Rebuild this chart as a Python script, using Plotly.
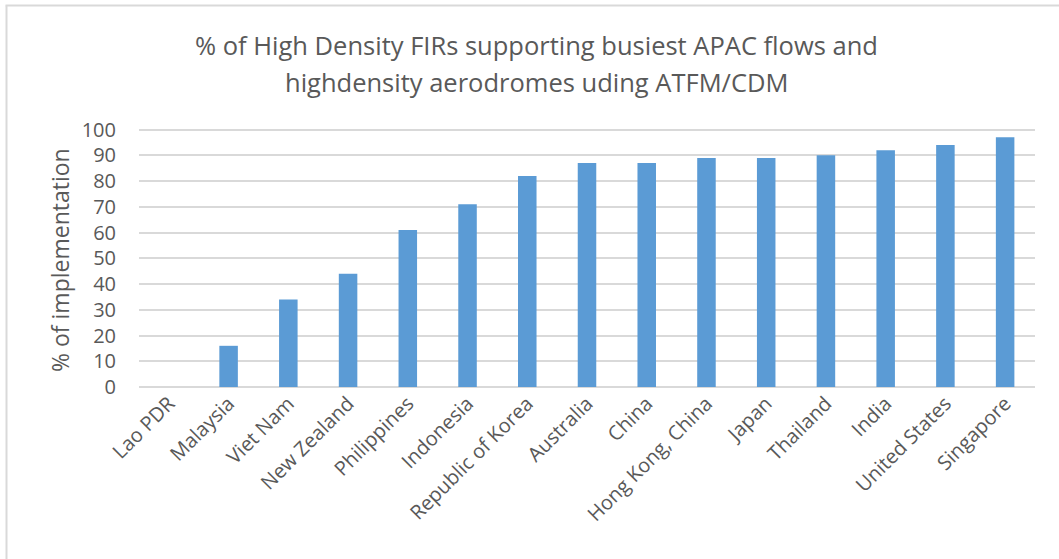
import plotly.graph_objects as go

# Implementation share per State/Administration (%)
countries = [
    "Lao PDR", "Malaysia", "Viet Nam", "New Zealand", "Philippines",
    "Indonesia", "Republic of Korea", "Australia", "China", "Hong Kong, China",
    "Japan", "Thailand", "India", "United States", "Singapore",
]
implementation_pct = [0, 16, 34, 44, 61, 71, 82, 87, 87, 89, 89, 90, 92, 94, 97]
y_ticks = [0, 10, 20, 30, 40, 50, 60, 70, 80, 90, 100]

title_lines = [
    "% of High Density FIRs supporting busiest APAC flows and",
    "highdensity aerodromes uding ATFM/CDM",
]

W, H = 1059, 559
ML, MR, MT, MB = 139, 24, 127, 172
plot_w = W - ML - MR
plot_h = H - MT - MB

TEXT = "#595959"
GRID = "#d9d9d9"
BAR = "#5b9bd5"
FONT = "Open Sans, DejaVu Sans, sans-serif"


def px_to_paper_x(px):
    return (px - ML) / plot_w


def px_to_paper_y(py):
    return (H - MB - py) / plot_h


fig = go.Figure(
    go.Bar(
        x=countries,
        y=implementation_pct,
        width=0.31,
        marker=dict(color=BAR, line=dict(width=0)),
        hoverinfo="x+y",
    )
)

annotations = [
    dict(
        text=title_lines[0], xref="paper", yref="paper",
        x=px_to_paper_x(536), y=px_to_paper_y(45),
        showarrow=False, xanchor="center", yanchor="middle",
        font=dict(family=FONT, size=25.5, color=TEXT),
    ),
    dict(
        text=title_lines[1], xref="paper", yref="paper",
        x=px_to_paper_x(536), y=px_to_paper_y(82),
        showarrow=False, xanchor="center", yanchor="middle",
        font=dict(family=FONT, size=25.5, color=TEXT),
    ),
    dict(
        text="% of implementation", xref="paper", yref="paper",
        x=px_to_paper_x(60), y=px_to_paper_y(260),
        showarrow=False, xanchor="center", yanchor="middle", textangle=-90,
        font=dict(family=FONT, size=23, color=TEXT),
    ),
]

# outer chart frame (left and top edges)
shapes = [
    dict(type="line", xref="paper", yref="paper",
         x0=px_to_paper_x(6.5), x1=px_to_paper_x(6.5),
         y0=px_to_paper_y(5.5), y1=px_to_paper_y(H + 5),
         line=dict(color=GRID, width=2)),
    dict(type="line", xref="paper", yref="paper",
         x0=px_to_paper_x(5.5), x1=px_to_paper_x(W + 5),
         y0=px_to_paper_y(5.5), y1=px_to_paper_y(5.5),
         line=dict(color=GRID, width=2)),
]

fig.update_layout(
    width=W, height=H,
    margin=dict(l=ML, r=MR, t=MT, b=MB, pad=0),
    paper_bgcolor="white", plot_bgcolor="white",
    showlegend=False,
    annotations=annotations,
    shapes=shapes,
    xaxis=dict(
        type="category",
        tickangle=-45,
        tickfont=dict(family=FONT, size=20, color=TEXT),
        showgrid=False, zeroline=False, showline=False, ticks="",
    ),
    yaxis=dict(
        range=[0, 101],
        tickvals=y_ticks,
        tickfont=dict(family=FONT, size=20, color=TEXT),
        showgrid=True, gridcolor=GRID, gridwidth=1.5,
        zeroline=True, zerolinecolor=GRID, zerolinewidth=1.5,
        showline=False, ticks="", ticklabelstandoff=22,
    ),
)

fig.write_html("out.html")
